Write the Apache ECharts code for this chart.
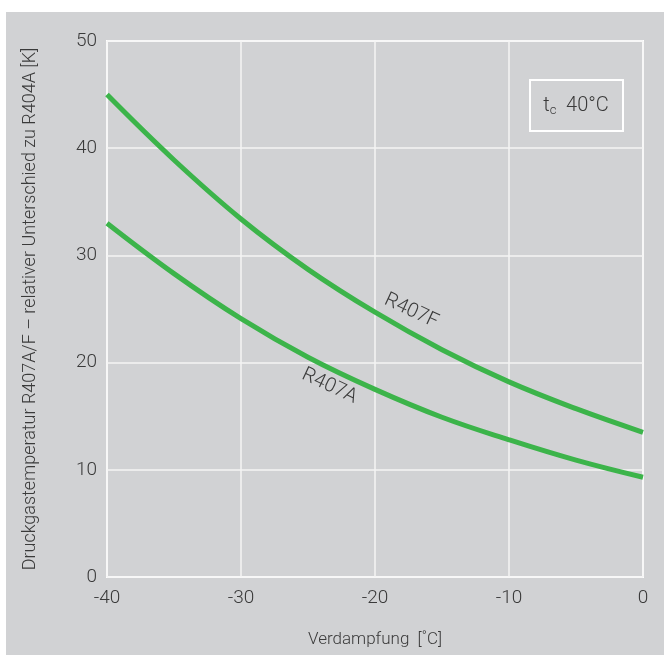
<!DOCTYPE html>
<html><head><meta charset="utf-8">
<script src="https://cdn.jsdelivr.net/npm/echarts@6/dist/echarts.min.js"></script>
<style>html,body{margin:0;padding:0;background:#fff}#c{width:664px;height:655px}</style>
</head><body><div id="c"></div>
<script>
const xValues = [-40, -35, -30, -25, -20, -15, -10, -5, 0];
const r407F = [45.0, 38.9, 33.4, 28.7, 24.7, 21.2, 18.2, 15.7, 13.5];
const r407A = [33.0, 28.3, 24.1, 20.5, 17.5, 14.9, 12.8, 10.9, 9.3];
const seriesNames = ['R407F', 'R407A'];
const labelAnchors = [[-17.3, 24.8], [-23.4, 17.8]];
const boxLabel = '40°C';

const chart = echarts.init(document.getElementById('c'), null, {renderer: 'canvas'});
const font = 'Roboto';
const txt = '#3a3a3a';
const green = '#3cb44a';
function pairs(v){ return xValues.map((x,i)=>[x, v[i]]); }
const baseGraphics = [
  {id: 'bg', type: 'rect', z: -10, shape: {x: 6, y: 12, width: 658, height: 643}, style: {fill: '#d1d2d4'}},
  {id: 'box', type: 'rect', z: 5, shape: {x: 530, y: 80, width: 93, height: 51}, style: {fill: 'none', stroke: '#ffffff', lineWidth: 2}},
  {id: 'boxText', type: 'text', z: 6, x: 576, y: 106, style: {
    text: '{t|t}{s|c}{v|  ' + boxLabel + '}', align: 'center', verticalAlign: 'middle',
    rich: {
      t: {fontFamily: font, fontSize: 20, fontWeight: 300, fill: txt},
      s: {fontFamily: font, fontSize: 13, fontWeight: 300, fill: txt, verticalAlign: 'bottom', padding: [10,0,0,0]},
      v: {fontFamily: font, fontSize: 20, fontWeight: 300, fill: txt}
    }
  }}
];
chart.setOption({
  backgroundColor: '#ffffff',
  animation: false,
  grid: {left: 107, top: 41, width: 536, height: 536, show: true, borderColor: '#ffffff', borderWidth: 2, backgroundColor: 'transparent'},
  xAxis: {
    type: 'value', min: -40, max: 0, interval: 10,
    name: 'Verdampfung  [˚C]', nameLocation: 'middle', nameGap: 54,
    nameTextStyle: {fontFamily: font, fontSize: 17, fontWeight: 300, color: txt},
    axisLine: {show: false}, axisTick: {show: false},
    axisLabel: {fontFamily: font, fontSize: 19, fontWeight: 300, color: txt, margin: 12},
    splitLine: {lineStyle: {color: '#f4f4f4', width: 1.5}}
  },
  yAxis: {
    type: 'value', min: 0, max: 50, interval: 10,
    name: 'Druckgastemperatur R407A/F – relativer Unterschied zu R404A [K]', nameLocation: 'middle', nameGap: 68,
    nameTextStyle: {fontFamily: font, fontSize: 18, fontWeight: 300, color: txt},
    axisLine: {show: false}, axisTick: {show: false},
    axisLabel: {fontFamily: font, fontSize: 19, fontWeight: 300, color: txt, margin: 10},
    splitLine: {lineStyle: {color: '#f4f4f4', width: 1.5}}
  },
  graphic: baseGraphics,
  series: [
    {name: seriesNames[0], type: 'line', data: pairs(r407F), smooth: 0.4, symbol: 'none', lineStyle: {color: green, width: 5}},
    {name: seriesNames[1], type: 'line', data: pairs(r407A), smooth: 0.4, symbol: 'none', lineStyle: {color: green, width: 5}}
  ]
});
const extra = labelAnchors.map((a, i) => {
  const p = chart.convertToPixel({gridIndex: 0}, a);
  return {id: 'lbl' + i, type: 'text', z: 6, x: p[0], y: p[1], rotation: 25 * Math.PI / 180 * -1,
    style: {text: seriesNames[i], align: 'center', verticalAlign: 'middle', fontFamily: font, fontSize: 20, fontWeight: 300, fill: txt}};
});
chart.setOption({graphic: baseGraphics.concat(extra)});
</script></body></html>
